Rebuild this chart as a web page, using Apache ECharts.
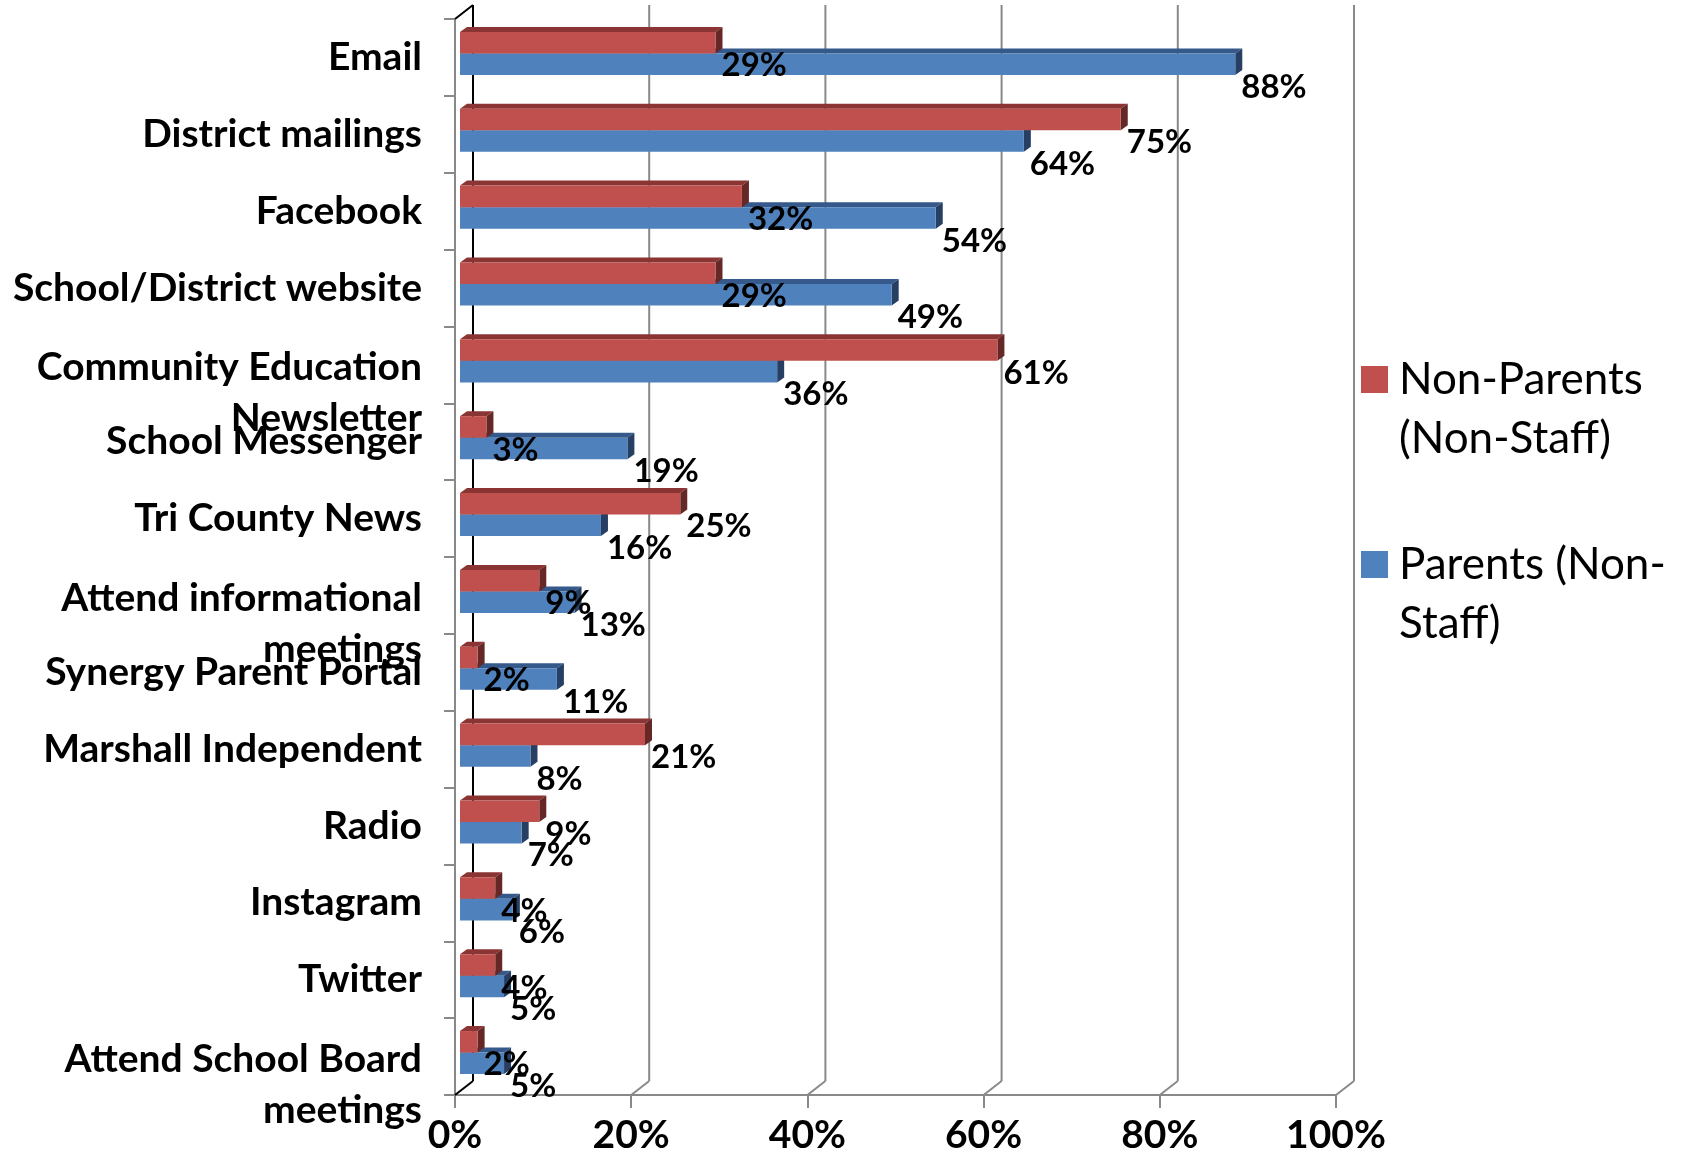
<!DOCTYPE html>
<html><head><meta charset="utf-8">
<script src="https://cdn.jsdelivr.net/npm/echarts@6/dist/echarts.min.js"></script>
<style>html,body{margin:0;padding:0;background:#fff}#chart{width:1681px;height:1152px}</style>
</head><body><div id="chart"></div>
<script>
const categories = ['Email','District mailings','Facebook','School/District website','Community Education Newsletter','School Messenger','Tri County News','Attend informational meetings','Synergy Parent Portal','Marshall Independent','Radio','Instagram','Twitter','Attend School Board meetings'];
const nonParents = [29,75,32,29,61,3,25,9,2,21,9,4,4,2];
const parents = [88,64,54,49,36,19,16,13,11,8,7,6,5,5];
const xTicks = [0,20,40,60,80,100];
const seriesNames = ['Non-Parents (Non-Staff)','Parents (Non-Staff)'];

const FONT = 'Lato';
const WALL_DX = 18, WALL_DY = -14;   // depth of the 3D box
const BAR_DX = 5, BAR_DY = -4;       // bar plane depth
const FACE_DX = 7, FACE_DY = -5;     // bar thickness
const GRID_GRAY = '#898989';

function wrapText(s, max, splitter) {
  const tokens = s.split(splitter);
  const lines = []; let cur = '';
  tokens.forEach(t => {
    const next = cur + t;
    if (next.trim().length > max && cur) { lines.push(cur.trim()); cur = t; }
    else cur = next;
  });
  lines.push(cur.trim());
  return lines;
}

function barRender(idx, colors) {
  return function (params, api) {
    const v = api.value(0);
    const c = api.value(1);
    const p0 = api.coord([0, c]);
    const p1 = api.coord([v, c]);
    const band = api.size([0, 1])[1];
    const h = band * 0.28;
    const cy = p0[1] + BAR_DY;
    const y0 = cy - h + idx * h, y1 = y0 + h;
    const x0 = p0[0] + BAR_DX, x1 = p1[0] + BAR_DX;
    const base = idx === 0 ? 10 : 0;
    return {
      type: 'group',
      children: [
        {type: 'polygon', z2: base + 1, shape: {points: [[x0, y0], [x1, y0], [x1 + FACE_DX, y0 + FACE_DY], [x0 + FACE_DX, y0 + FACE_DY]]}, style: {fill: colors[1]}},
        {type: 'polygon', z2: base + 1, shape: {points: [[x1, y0], [x1 + FACE_DX, y0 + FACE_DY], [x1 + FACE_DX, y1 + FACE_DY], [x1, y1]]}, style: {fill: colors[2]}},
        {type: 'rect', z2: base + 2, shape: {x: x0, y: y0, width: x1 - x0, height: h}, style: {fill: colors[0]}},
        {type: 'text', z2: 100, style: {text: v + '%', x: x1 + 6, y: (y0 + y1) / 2 + 23, align: 'left', verticalAlign: 'middle', fontFamily: FONT, fontWeight: 'bold', fontSize: 33, fill: '#000'}}
      ]
    };
  };
}

function wallRender(params, api) {
  const v = api.value(0);
  const cs = params.coordSys;
  const x = api.coord([v, 0])[0];
  const top = cs.y, bottom = cs.y + cs.height;
  const color = v === 0 ? '#000' : GRID_GRAY;
  const children = [
    {type: 'line', shape: {x1: x + WALL_DX, y1: top + WALL_DY, x2: x + WALL_DX, y2: bottom + WALL_DY}, style: {stroke: color, lineWidth: 2}},
    {type: 'line', shape: {x1: x, y1: bottom, x2: x + WALL_DX, y2: bottom + WALL_DY}, style: {stroke: color, lineWidth: 2}}
  ];
  if (v === 0) children.push({type: 'line', shape: {x1: x, y1: top, x2: x + WALL_DX, y2: top + WALL_DY}, style: {stroke: '#000', lineWidth: 2}});
  return {type: 'group', children};
}

const catText = {fontFamily: FONT, fontWeight: 'bold', fontSize: 39, lineHeight: 51, color: '#000'};

const chart = echarts.init(document.getElementById('chart'));
chart.setOption({
  backgroundColor: '#fff',
  animation: false,
  grid: {left: 455, top: 19, width: 881, height: 1076, containLabel: false, outerBoundsMode: 'none'},
  legend: {
    data: seriesNames,
    orient: 'vertical', left: 1361, top: 291, padding: 0,
    icon: 'rect', itemWidth: 27, itemHeight: 27, itemGap: 8,
    textStyle: {fontFamily: FONT, fontSize: 44, lineHeight: 59, color: '#000', padding: [0, 0, 0, 6]},
    formatter: name => '\n' + wrapText(name, 13, /(?<=[- ])/).join('\n')
  },
  xAxis: {
    type: 'value', min: 0, max: 100, interval: 20,
    axisLine: {show: true, lineStyle: {color: GRID_GRAY, width: 2}},
    axisTick: {show: true, length: 13, lineStyle: {color: GRID_GRAY, width: 2}},
    splitLine: {show: false},
    axisLabel: {formatter: '{value}%', fontFamily: FONT, fontWeight: 'bold', fontSize: 39, color: '#000', margin: 21}
  },
  yAxis: {
    type: 'category', data: categories, inverse: true,
    axisLine: {show: true, lineStyle: {color: GRID_GRAY, width: 2}},
    axisTick: {show: true, length: 11, lineStyle: {color: GRID_GRAY, width: 2}},
    splitLine: {show: false},
    axisLabel: Object.assign({}, catText, {
      interval: 0, margin: 33,
      rich: {gap: {lineHeight: 57, fontSize: 10}, t: catText},
      formatter: v => {
        const l = wrapText(v, 23, /(?<= )/);
        return l.length > 1 ? '{gap|}\n' + l.map(s => '{t|' + s + '}').join('\n') : v;
      }
    })
  },
  series: [
    {type: 'custom', name: 'walls', silent: true, z: 1, renderItem: wallRender, encode: {x: 0, y: 1},
      data: xTicks.map(v => [v, 0])},
    {type: 'custom', name: seriesNames[1], z: 2, itemStyle: {color: '#4F81BD'}, encode: {x: 0, y: 1},
      renderItem: barRender(1, ['#4F81BD', '#34598A', '#263F62']),
      data: parents.map((v, i) => [v, categories[i]])},
    {type: 'custom', name: seriesNames[0], z: 2, itemStyle: {color: '#C0504D'}, encode: {x: 0, y: 1},
      renderItem: barRender(0, ['#C0504D', '#8A3533', '#652826']),
      data: nonParents.map((v, i) => [v, categories[i]])}
  ]
});
</script></body></html>
